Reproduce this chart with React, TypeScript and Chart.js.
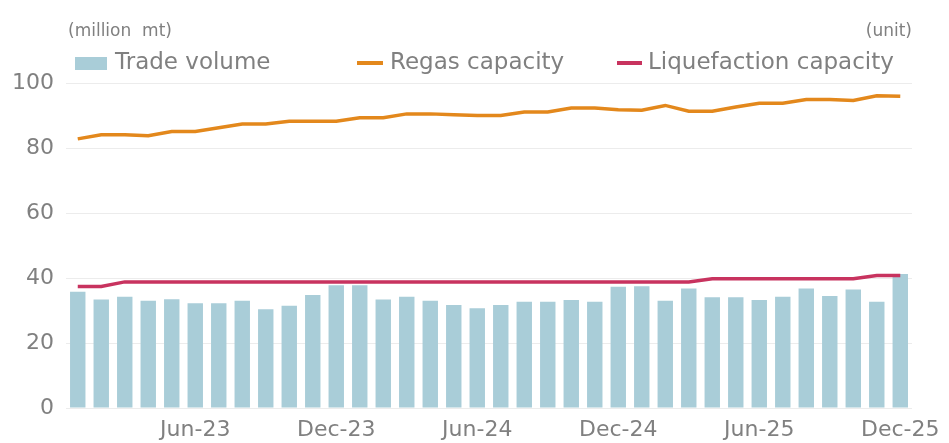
import React, { useEffect, useRef } from "react";
import { Chart, registerables } from "chart.js";

Chart.register(...registerables);

const categories = [
  "Jan-23", "Feb-23", "Mar-23", "Apr-23", "May-23", "Jun-23", "Jul-23", "Aug-23", "Sep-23", "Oct-23", "Nov-23", "Dec-23",
  "Jan-24", "Feb-24", "Mar-24", "Apr-24", "May-24", "Jun-24", "Jul-24", "Aug-24", "Sep-24", "Oct-24", "Nov-24", "Dec-24",
  "Jan-25", "Feb-25", "Mar-25", "Apr-25", "May-25", "Jun-25", "Jul-25", "Aug-25", "Sep-25", "Oct-25", "Nov-25", "Dec-25",
];

const tradeVolume = [
  35.8, 33.4, 34.2, 33.0, 33.5, 32.2, 32.2, 33.0, 30.4, 31.5, 34.8, 37.8,
  37.8, 33.4, 34.2, 33.0, 31.7, 30.7, 31.7, 32.7, 32.7, 33.2, 32.7, 37.3,
  37.5, 33.0, 36.8, 34.1, 34.1, 33.2, 34.2, 36.8, 34.5, 36.5, 32.7, 41.2,
];

const regasCapacity = [
  82.8, 84.1, 84.1, 83.8, 85.1, 85.1, 86.2, 87.4, 87.4, 88.2, 88.2, 88.2,
  89.3, 89.3, 90.5, 90.5, 90.2, 90.0, 90.0, 91.1, 91.1, 92.3, 92.3, 91.8,
  91.6, 93.1, 91.3, 91.3, 92.6, 93.8, 93.8, 94.9, 94.9, 94.6, 96.1, 95.9,
];

const liquefactionCapacity = [
  37.4, 37.4, 38.8, 38.8, 38.8, 38.8, 38.8, 38.8, 38.8, 38.8, 38.8, 38.8,
  38.8, 38.8, 38.8, 38.8, 38.8, 38.8, 38.8, 38.8, 38.8, 38.8, 38.8, 38.8,
  38.8, 38.8, 38.8, 39.8, 39.8, 39.8, 39.8, 39.8, 39.8, 39.8, 40.8, 40.8,
];

const seriesNames = ["Trade volume", "Regas capacity", "Liquefaction capacity"];
const leftUnit = "(million  mt)";
const rightUnit = "(unit)";
const yTicks = [0, 20, 40, 60, 80, 100];

const BAR_COLOR = "#a9cdd8";
const REGAS_COLOR = "#e3881c";
const LIQ_COLOR = "#c8335f";
const TEXT_COLOR = "#808080";
const FONT = "'DejaVu Sans', sans-serif";

const headerPlugin = {
  id: "header",
  afterDraw(chart: any) {
    const ctx = chart.ctx;
    ctx.save();
    ctx.fillStyle = TEXT_COLOR;
    ctx.textBaseline = "middle";
    ctx.font = `17px ${FONT}`;
    ctx.textAlign = "left";
    ctx.fillText(leftUnit, 68, 32);
    ctx.textAlign = "right";
    ctx.fillText(rightUnit, 912, 32);

    const y = 63;
    ctx.font = `23px ${FONT}`;
    ctx.textAlign = "left";
    ctx.fillStyle = BAR_COLOR;
    ctx.fillRect(75, 57, 32, 13);
    ctx.fillStyle = TEXT_COLOR;
    ctx.fillText(seriesNames[0], 115, y);
    ctx.strokeStyle = REGAS_COLOR;
    ctx.lineWidth = 4;
    ctx.beginPath();
    ctx.moveTo(357, y);
    ctx.lineTo(383, y);
    ctx.stroke();
    ctx.fillText(seriesNames[1], 390, y);
    ctx.strokeStyle = LIQ_COLOR;
    ctx.beginPath();
    ctx.moveTo(617, y);
    ctx.lineTo(642, y);
    ctx.stroke();
    ctx.fillText(seriesNames[2], 648, y);
    ctx.restore();
  },
};

export default function App() {
  const ref = useRef<HTMLCanvasElement>(null);

  useEffect(() => {
    if (!ref.current) return;
    const chart = new Chart(ref.current, {
      type: "bar",
      data: {
        labels: categories,
        datasets: [
          {
            type: "line",
            label: seriesNames[2],
            data: liquefactionCapacity,
            borderColor: LIQ_COLOR,
            backgroundColor: LIQ_COLOR,
            borderWidth: 3.5,
            pointRadius: 0,
            tension: 0,
            order: 1,
          },
          {
            type: "line",
            label: seriesNames[1],
            data: regasCapacity,
            borderColor: REGAS_COLOR,
            backgroundColor: REGAS_COLOR,
            borderWidth: 3.5,
            pointRadius: 0,
            tension: 0,
            order: 2,
          },
          {
            type: "bar",
            label: seriesNames[0],
            data: tradeVolume,
            backgroundColor: BAR_COLOR,
            categoryPercentage: 0.8,
            barPercentage: 0.82,
            order: 3,
          },
        ],
      } as any,
      options: {
        responsive: false,
        animation: false,
        layout: { padding: { top: 83, right: 34, left: 0, bottom: 0 } },
        plugins: {
          legend: { display: false },
          tooltip: { enabled: false },
          title: { display: false },
        },
        scales: {
          x: {
            offset: true,
            grid: { display: false, drawTicks: false },
            border: { display: false },
            ticks: {
              autoSkip: false,
              maxRotation: 0,
              minRotation: 0,
              padding: 9,
              color: TEXT_COLOR,
              font: { family: FONT, size: 22 },
              callback: (_v: any, i: number) => (i % 6 === 5 ? categories[i] : ""),
            },
            afterFit: (s: any) => {
              s.height = 35;
            },
          },
          y: {
            min: 0,
            max: 100,
            afterBuildTicks: (s: any) => {
              s.ticks = yTicks.map((v) => ({ value: v }));
            },
            grid: { color: "#ececec", lineWidth: 1, drawTicks: false },
            border: { display: false },
            ticks: {
              padding: 12,
              color: TEXT_COLOR,
              font: { family: FONT, size: 22 },
            },
            afterFit: (s: any) => {
              s.width = 66;
            },
          },
        },
      },
      plugins: [headerPlugin],
    });
    return () => chart.destroy();
  }, []);

  return (
    <div style={{ position: "fixed", left: 0, top: 0, width: 949, height: 443, background: "#fff" }}>
      <canvas ref={ref} width={949} height={443} style={{ width: 949, height: 443 }} />
    </div>
  );
}
